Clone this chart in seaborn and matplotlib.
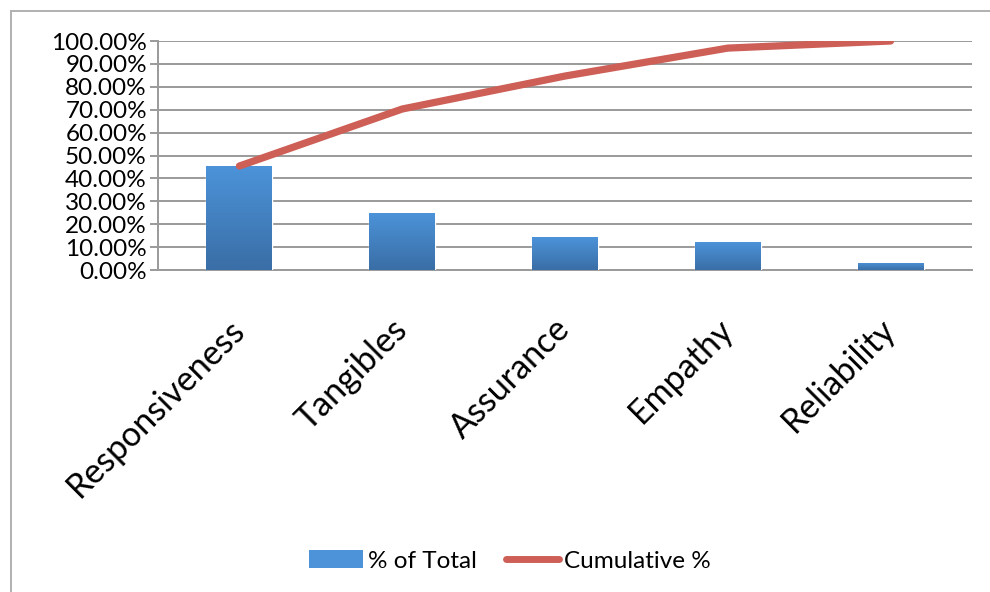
import numpy as np
import pandas as pd
import matplotlib
matplotlib.use("Agg")
import matplotlib.pyplot as plt
import seaborn as sns
from matplotlib.colors import LinearSegmentedColormap
from matplotlib.patches import Patch, Rectangle
from matplotlib.lines import Line2D
from matplotlib.ticker import FuncFormatter, FixedLocator

# Pareto data: service-quality dimensions
categories = ["Responsiveness", "Tangibles", "Assurance", "Empathy", "Reliability"]
pct_of_total = [45.4, 24.9, 14.4, 12.2, 3.1]
cumulative_pct = [45.4, 70.3, 84.7, 96.9, 100.0]
y_ticks = [0, 10, 20, 30, 40, 50, 60, 70, 80, 90, 100]

df = pd.DataFrame({"Dimension": categories,
                   "% of Total": pct_of_total,
                   "Cumulative %": cumulative_pct})
df["pos"] = np.arange(len(df))

sns.set_theme(style="white")
plt.rcParams["font.family"] = ["Lato", "DejaVu Sans"]
plt.rcParams["text.color"] = "black"
plt.rcParams["xtick.color"] = "black"
plt.rcParams["ytick.color"] = "black"

BAR_TOP = "#4c93d9"
BAR_BOTTOM = "#3a6ea6"
LINE_RED = "#cd5f57"
GRID = "#9a9a9a"

fig = plt.figure(figsize=(9.9, 5.92), dpi=100)
ax = fig.add_axes([158 / 990, 1 - 270 / 592, (972 - 158) / 990, (270 - 41) / 592])

sns.barplot(data=df, x="Dimension", y="% of Total", color=BAR_TOP,
            width=0.405, ax=ax, zorder=3, saturation=1)

# vertical gradient fill for each bar
grad = LinearSegmentedColormap.from_list("bar", [BAR_BOTTOM, BAR_TOP])
for p in list(ax.patches):
    x0, y0 = p.get_x(), p.get_y()
    w, h = p.get_width(), p.get_height()
    img = ax.imshow(np.linspace(0, 1, 100).reshape(-1, 1), cmap=grad,
                    extent=[x0, x0 + w, y0, y0 + h], origin="lower",
                    aspect="auto", zorder=3.5)
    img.set_clip_path(p)

sns.lineplot(data=df, x="pos", y="Cumulative %", color=LINE_RED, lw=5.2,
             ax=ax, zorder=4, solid_capstyle="round", solid_joinstyle="round")

ax.set_xlim(-0.5, len(categories) - 0.5)
ax.set_ylim(0, 100)
ax.set_yticks(y_ticks)
ax.yaxis.set_major_formatter(FuncFormatter(lambda v, _: f"{v:.2f}%"))
ax.yaxis.grid(True, color=GRID, lw=1.4, zorder=0)
ax.set_axisbelow(True)

ax.set_xticks(range(len(categories)))
ax.set_xticklabels(categories, rotation=45, ha="right", va="center",
                   rotation_mode="anchor", fontsize=24.5)
ax.xaxis.set_minor_locator(FixedLocator(np.arange(-0.5, len(categories), 1.0)))
ax.tick_params(axis="x", which="major", length=0, pad=39)
ax.tick_params(axis="x", which="minor", length=9, width=1.4, color=GRID, direction="out")
ax.tick_params(axis="y", length=6, width=1.4, color=GRID, labelcolor="black",
               direction="out", labelsize=17.5, pad=2, left=True)
for lbl in ax.get_xticklabels():
    lbl.set_color("black")

for side in ["top", "right"]:
    ax.spines[side].set_visible(False)
for side in ["left", "bottom"]:
    ax.spines[side].set_color(GRID)
    ax.spines[side].set_linewidth(1.4)

ax.set_xlabel("")
ax.set_ylabel("")
if ax.get_legend() is not None:
    ax.get_legend().remove()

# chart frame
fig.add_artist(Rectangle((11 / 990, -0.1), 1.2, 1 - 11 / 592 + 0.1,
                         transform=fig.transFigure, fill=False,
                         edgecolor="#b0b0b0", lw=1.4))

handles = [Patch(facecolor=BAR_TOP, edgecolor="none"),
           Line2D([], [], color=LINE_RED, lw=5, solid_capstyle="round")]
leg = fig.legend(handles, ["% of Total", "Cumulative %"], loc="center",
                 bbox_to_anchor=(510 / 990, 1 - 561 / 592), ncol=2, frameon=False,
                 fontsize=17.5, handlelength=2.2, handleheight=0.7,
                 handletextpad=0.2, columnspacing=1.2)
for t in leg.get_texts():
    t.set_color("black")

fig.savefig("out.png", dpi=100)
